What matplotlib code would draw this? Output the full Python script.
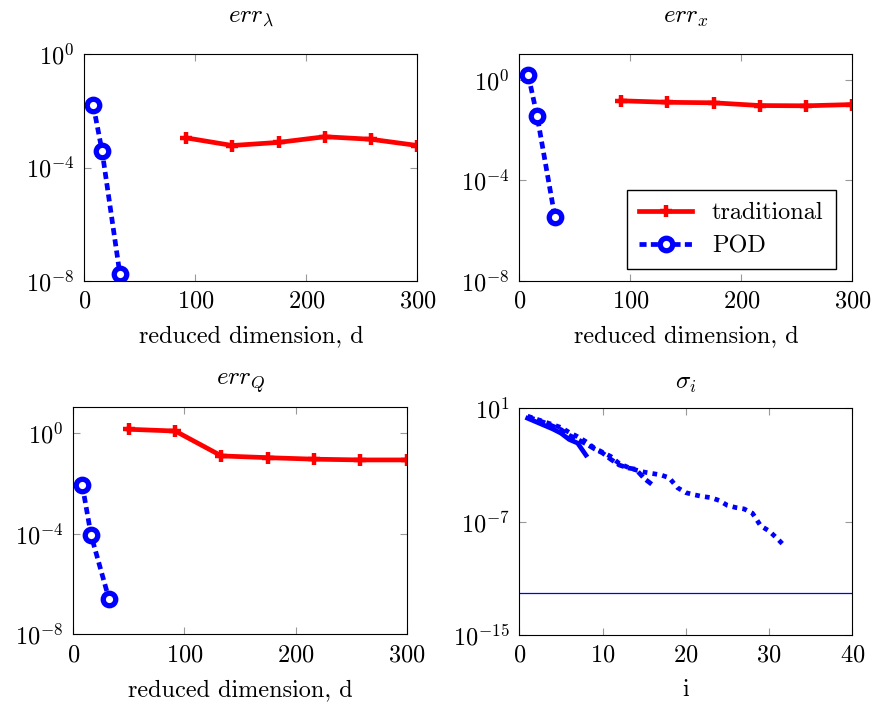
import matplotlib
matplotlib.use('Agg')
import matplotlib.pyplot as plt
import numpy as np

plt.rcParams['font.family'] = 'serif'
plt.rcParams['font.serif'] = ['cmr10']
plt.rcParams['mathtext.fontset'] = 'cm'
plt.rcParams['axes.formatter.use_mathtext'] = True
plt.rcParams['font.size'] = 17.5

# reduced dimensions
d_trad = [91.7, 133.3, 175.0, 216.7, 258.3, 300.0]
d_trad_q = [50.0, 91.7, 133.3, 175.0, 216.7, 258.3, 300.0]
d_pod = [8, 16, 32]

# errors (log10)
lam_trad = [-2.95, -3.22, -3.11, -2.91, -3.0, -3.22]
lam_pod = [-1.79, -3.42, -7.76]
x_trad = [-0.82, -0.88, -0.90, -1.01, -1.02, -0.97]
x_pod = [0.21, -1.42, -5.45]
q_trad = [0.16, 0.09, -0.90, -0.97, -1.03, -1.06, -1.06]
q_pod = [-2.05, -4.06, -6.58]

# singular values (log10)
sig_a = [0.30, 0.05, -0.20, -0.45, -0.75, -1.20, -1.45, -2.30]
sig_b = [0.40, 0.20, 0.00, -0.25, -0.50, -0.90, -1.20, -1.50, -1.85, -2.15,
         -2.60, -3.00, -3.20, -3.30, -3.95, -4.40]
sig_c = [0.45, 0.25, 0.05, -0.15, -0.35, -0.70, -1.00, -1.35, -1.80, -2.10,
         -2.40, -2.90, -3.15, -3.35, -3.50, -3.60, -3.70, -3.90, -4.60, -4.95,
         -5.10, -5.22, -5.30, -5.50, -5.85, -6.00, -6.10, -6.40, -7.30, -7.65,
         -8.20, -8.80]
sig_tol = 1e-12

fig = plt.figure(figsize=(8.74, 7.07), dpi=100)

def style(ax, xt, yt):
    ax.set_yscale('log')
    ax.set_xticks(xt)
    ax.set_yticks(yt)
    ax.minorticks_off()
    ax.tick_params(direction='in', length=5, color='#999999', top=True, right=True,
                   labelsize=17.5, pad=7)
    for s in ax.spines.values():
        s.set_linewidth(0.8)

def err_plot(ax, dt, tr, dp, pod, title, ylim, tpad):
    ax.plot(dt, 10.0**np.array(tr), color='red', lw=3.4, marker='+', ms=9, mew=3.2,
            label='traditional')
    ax.plot(dp, 10.0**np.array(pod), color='blue', lw=3.4, dashes=(1.5, 0.9),
            marker='o', ms=9, mew=3.8, mfc='white', label='POD')
    ax.set_xlim(0, 300)
    ax.set_ylim(*ylim)
    style(ax, [0, 100, 200, 300], [1e-8, 1e-4, 1e0])
    ax.set_title(title, fontsize=18, pad=tpad)
    ax.set_xlabel('reduced dimension, d', fontsize=17.5, labelpad=9)

ax1 = fig.add_axes([0.0965, 0.603, 0.381, 0.320])
err_plot(ax1, d_trad, lam_trad, d_pod, lam_pod, r'$err_\lambda$', (1e-8, 1e0), 23)

ax2 = fig.add_axes([0.5942, 0.603, 0.381, 0.320])
err_plot(ax2, d_trad, x_trad, d_pod, x_pod, r'$err_x$', (1e-8, 10**1.03), 23)
ax2.legend(loc='lower right', bbox_to_anchor=(0.95, 0.05), fancybox=False,
           edgecolor='black', framealpha=1, fontsize=17.5, borderpad=0.5,
           handlelength=2.2, labelspacing=0.45, borderaxespad=0)

ax3 = fig.add_axes([0.0839, 0.1028, 0.3815, 0.322])
err_plot(ax3, d_trad_q, q_trad, d_pod, q_pod, r'$err_Q$', (1e-8, 10**1.06), 16)

ax4 = fig.add_axes([0.5942, 0.1018, 0.381, 0.3206])
ax4.plot(np.arange(1, len(sig_a) + 1), 10.0**np.array(sig_a), color='blue', lw=3.4)
ax4.plot(np.arange(1, len(sig_b) + 1), 10.0**np.array(sig_b), color='blue', lw=3.4,
         dashes=(1.5, 0.9))
ax4.plot(np.arange(1, len(sig_c) + 1), 10.0**np.array(sig_c), color='blue', lw=3.4,
         dashes=(1, 1.1))
ax4.axhline(sig_tol, color='blue', lw=0.9)
ax4.set_xlim(0, 40)
ax4.set_ylim(1e-15, 1e1)
style(ax4, [0, 10, 20, 30, 40], [1e-15, 1e-7, 1e1])
ax4.set_title(r'$\sigma_i$', fontsize=18, pad=14)
ax4.set_xlabel('i', fontsize=17.5, labelpad=9)

fig.savefig('out.png', dpi=100)
